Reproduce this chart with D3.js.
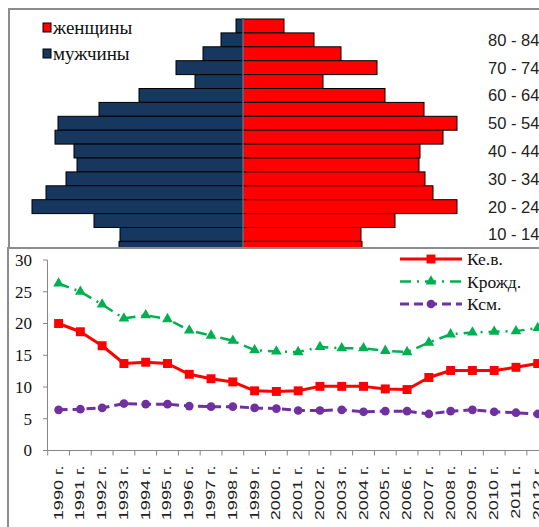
<!DOCTYPE html>
<html>
<head>
<meta charset="utf-8">
<script src="https://cdn.jsdelivr.net/npm/d3@7"></script>
<style>
  html, body { margin: 0; padding: 0; background: #fff; overflow: hidden; }
  svg { display: block; }
</style>
</head>
<body>
<svg id="chart" width="539" height="527"></svg>
<script>
// Population pyramid (top) and vital rates 1990-2012 (bottom).
const ageGroups = ["85+", "80 - 84", "75 - 79", "70 - 74", "65 - 69", "60 - 64", "55 - 59", "50 - 54", "45 - 49",
  "40 - 44", "35 - 39", "30 - 34", "25 - 29", "20 - 24", "15 - 19", "10 - 14", "5 - 9", "0 - 4"];
const ageLabels = ["80 - 84", "70 - 74", "60 - 64", "50 - 54", "40 - 44", "30 - 34", "20 - 24", "10 - 14", "0 - 4"];
const men = [7, 22, 40, 67, 48, 104, 144, 185, 188, 169, 166, 177, 197, 211, 149, 123, 124, 120];
const women = [41, 71, 98, 134, 80, 142, 181, 214, 200, 177, 176, 182, 190, 214, 152, 118, 119, 115];

const years = ["1990 г.", "1991 г.", "1992 г.", "1993 г.", "1994 г.", "1995 г.", "1996 г.", "1997 г.", "1998 г.",
  "1999 г.", "2000 г.", "2001 г.", "2002 г.", "2003 г.", "2004 г.", "2005 г.", "2006 г.", "2007 г.", "2008 г.",
  "2009 г.", "2010 г.", "2011 г.", "2012 г."];
const keb = [20.0, 18.7, 16.5, 13.7, 13.9, 13.7, 12.0, 11.3, 10.8, 9.4, 9.3, 9.4, 10.1, 10.1, 10.1, 9.7, 9.6,
  11.5, 12.6, 12.6, 12.6, 13.1, 13.7];
const krozhd = [26.3, 25.0, 23.0, 20.8, 21.3, 20.7, 18.9, 18.1, 17.3, 15.8, 15.6, 15.5, 16.3, 16.1, 16.1, 15.7,
  15.5, 17.0, 18.3, 18.6, 18.7, 18.8, 19.3];
const ksm = [6.4, 6.5, 6.7, 7.4, 7.3, 7.3, 7.0, 6.9, 6.9, 6.7, 6.6, 6.3, 6.3, 6.4, 6.1, 6.2, 6.2, 5.75, 6.2,
  6.4, 6.1, 5.95, 5.75];
const yTicks = [0, 5, 10, 15, 20, 25, 30];

const svg = d3.select("#chart");
const serif = "'Liberation Serif', 'Times New Roman', serif";
const sans = "'Liberation Sans', Arial, sans-serif";

// ---- pyramid panel ----
svg.append("rect")
  .attr("x", 9).attr("y", 9).attr("width", 600).attr("height", 600)
  .attr("fill", "#fff").attr("stroke", "#8c8c8c").attr("stroke-width", 2);

const py = d3.scaleBand().domain(ageGroups).range([19, 19 + 18 * 13.9]).padding(0);
const px = d3.scaleLinear().domain([-230, 230]).range([13, 473]);

const rows = ageGroups.map((a, i) => ({ age: a, m: men[i], w: women[i] }));
const pyr = svg.append("g");
pyr.selectAll("rect.m").data(rows).join("rect")
  .attr("x", (d) => px(-d.m)).attr("y", (d) => py(d.age))
  .attr("width", (d) => px(0) - px(-d.m)).attr("height", py.bandwidth())
  .attr("fill", "#17375e").attr("stroke", "#000").attr("stroke-width", 1);
pyr.selectAll("rect.w").data(rows).join("rect")
  .attr("x", px(0)).attr("y", (d) => py(d.age))
  .attr("width", (d) => px(d.w) - px(0)).attr("height", py.bandwidth())
  .attr("fill", "#ff0000").attr("stroke", "#000").attr("stroke-width", 1);
pyr.append("line")
  .attr("x1", px(0)).attr("x2", px(0)).attr("y1", 19).attr("y2", 270)
  .attr("stroke", "#8ea9c1").attr("stroke-width", 1);

pyr.selectAll("text.age").data(ageLabels).join("text")
  .attr("x", 488).attr("y", (d) => py(d) + py.bandwidth() / 2).attr("dy", "0.36em")
  .attr("font-family", sans).attr("font-size", 16.5).attr("fill", "#222")
  .text((d) => d);

const pLeg = [{ t: "женщины", c: "#ff0000", y: 28 }, { t: "мужчины", c: "#17375e", y: 54 }];
pLeg.forEach((l) => {
  pyr.append("rect").attr("x", 43).attr("y", l.y - 5).attr("width", 8).attr("height", 9)
    .attr("fill", l.c).attr("stroke", "#000").attr("stroke-width", 1);
  pyr.append("text").attr("x", 53).attr("y", l.y + 6)
    .attr("font-family", serif).attr("font-size", 19).attr("fill", "#111").text(l.t);
});

// ---- line chart panel ----
svg.append("rect")
  .attr("x", 8).attr("y", 248).attr("width", 600).attr("height", 400)
  .attr("fill", "#fff").attr("stroke", "#8c8c8c").attr("stroke-width", 2);

const x = d3.scaleBand().domain(years).range([47.7, 47.7 + 23 * 21.78]).padding(0);
const y = d3.scaleLinear().domain([0, 30]).range([450.5, 260]);
const cx = (d) => x(d) + x.bandwidth() / 2;

const ax = svg.append("g").attr("stroke", "#868686").attr("stroke-width", 1);
ax.append("line").attr("x1", 47.5).attr("x2", 47.5).attr("y1", y(30)).attr("y2", y(0));
ax.append("line").attr("x1", 47.5).attr("x2", 539).attr("y1", y(0)).attr("y2", y(0));
ax.selectAll("line.yt").data(yTicks).join("line")
  .attr("x1", 43).attr("x2", 47.5).attr("y1", (d) => y(d)).attr("y2", (d) => y(d));
ax.selectAll("line.xt").data(years.concat(["end"])).join("line")
  .attr("x1", (d, i) => (i < years.length ? x(d) : x(years[years.length - 1]) + x.bandwidth()))
  .attr("x2", (d, i) => (i < years.length ? x(d) : x(years[years.length - 1]) + x.bandwidth()))
  .attr("y1", y(0)).attr("y2", y(0) + 5);

svg.selectAll("text.yl").data(yTicks).join("text")
  .attr("x", 32).attr("y", (d) => y(d)).attr("dy", "0.35em").attr("text-anchor", "end")
  .attr("font-family", serif).attr("font-size", 17).attr("fill", "#111").text((d) => d);

svg.selectAll("text.xl").data(years).join("text")
  .attr("transform", (d) => `translate(${cx(d) + 4},${y(0) + 15}) rotate(-90) scale(1.45,1)`)
  .attr("text-anchor", "end")
  .attr("font-family", sans).attr("font-size", 12.5).attr("fill", "#222").text((d) => d);

const series = [
  { name: "Ке.в.", vals: keb, color: "#ff0000", width: 3, dash: null, sym: d3.symbolSquare, size: 80 },
  { name: "Крожд.", vals: krozhd, color: "#00b050", width: 2.5, dash: "11,6,2,6", sym: d3.symbolTriangle, size: 50 },
  { name: "Ксм.", vals: ksm, color: "#7030a0", width: 3, dash: "9,5", sym: d3.symbolCircle, size: 60 }
];

const line = d3.line().x((d) => cx(d.year)).y((d) => y(d.v));
series.forEach((s, k) => {
  const pts = years.map((yr, i) => ({ year: yr, v: s.vals[i] }));
  const g = svg.append("g");
  g.append("path").datum(pts).attr("d", line)
    .attr("fill", "none").attr("stroke", s.color).attr("stroke-width", s.width)
    .attr("stroke-dasharray", s.dash).attr("stroke-linejoin", "round");
  g.selectAll("path.mk").data(pts).join("path")
    .attr("d", d3.symbol().type(s.sym).size(s.size))
    .attr("transform", (d) => `translate(${cx(d.year)},${y(d.v)})`)
    .attr("fill", s.color);

  // legend
  const ly = 259 + k * 22.5;
  g.append("line").attr("x1", 400).attr("x2", 462).attr("y1", ly).attr("y2", ly)
    .attr("stroke", s.color).attr("stroke-width", s.width).attr("stroke-dasharray", s.dash);
  g.append("path").attr("d", d3.symbol().type(s.sym).size(s.size))
    .attr("transform", `translate(431,${ly})`).attr("fill", s.color);
  g.append("text").attr("x", 467).attr("y", ly + 6)
    .attr("font-family", serif).attr("font-size", 17.5).attr("fill", "#111").text(s.name);
});
</script>
</body>
</html>
